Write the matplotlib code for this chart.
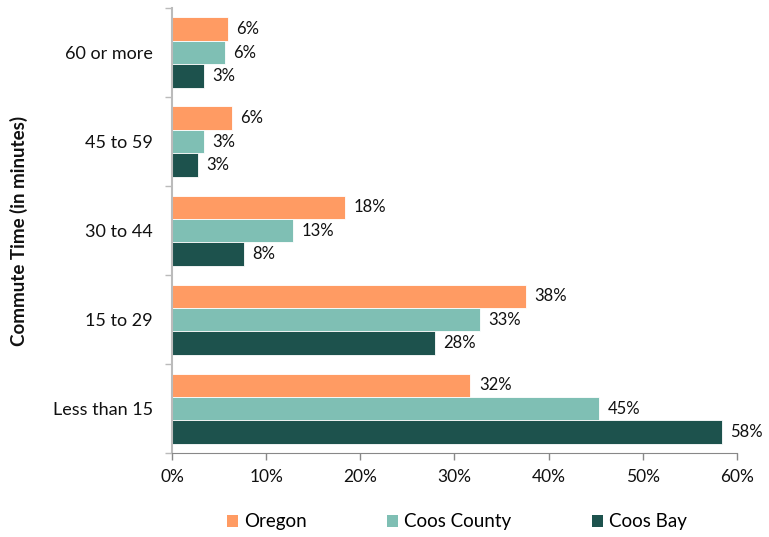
import numpy as np
import matplotlib.pyplot as plt
from matplotlib.patches import Patch

plt.rcParams['font.family'] = ['Lato', 'DejaVu Sans']

# commute time categories, top to bottom as drawn
categories = ['60 or more', '45 to 59', '30 to 44', '15 to 29', 'Less than 15']
series_names = ['Oregon', 'Coos County', 'Coos Bay']
oregon = [5.9, 6.3, 18.4, 37.6, 31.7]
coos_county = [5.6, 3.4, 12.8, 32.7, 45.4]
coos_bay = [3.4, 2.7, 7.6, 27.9, 58.4]
x_ticks = [0, 10, 20, 30, 40, 50, 60]

colors = ['#FF9B63', '#7FBFB4', '#1D524D']
values = [oregon, coos_county, coos_bay]

fig = plt.figure(figsize=(7.69, 5.37), dpi=100)
ax = fig.add_axes([0.224, 0.156, 0.734, 0.829])

n = len(categories)
centers = np.arange(n)
bh = 0.263
for i, (vals, col) in enumerate(zip(values, colors)):
    y = centers + (i - 1) * bh
    ax.barh(y, vals, height=bh, color=col, edgecolor='white', linewidth=0.6)
    for yy, v in zip(y, vals):
        ax.text(v + 0.9, yy, f'{v:.0f}%', va='center', ha='left',
                fontsize=12, color='#111111')

ax.set_ylim(n - 0.5, -0.5)
ax.set_xlim(0, 60)

# category boundaries carry the tick marks, labels sit at the centres
ax.set_yticks(np.arange(n + 1) - 0.5)
ax.set_yticklabels([])
ax.set_yticks(centers, minor=True)
ax.set_yticklabels(categories, minor=True, fontsize=13, color='#111111')
ax.tick_params(axis='y', which='minor', length=0, pad=14)
ax.tick_params(axis='y', which='major', length=5, color='#BBBBBB', width=1)

ax.set_xticks(x_ticks)
ax.set_xticklabels([f'{t}%' for t in x_ticks], fontsize=12.5, color='#111111')
ax.tick_params(axis='x', length=5, color='#888888', width=1, pad=6)

for s in ['top', 'right']:
    ax.spines[s].set_visible(False)
ax.spines['left'].set_color('#BBBBBB')
ax.spines['left'].set_linewidth(1.5)
ax.spines['bottom'].set_color('#888888')

fig.text(0.024, 0.57, 'Commute Time (in minutes)', rotation=90, va='center',
         ha='center', fontsize=13.5, fontweight='bold', color='#111111')

handles = [Patch(facecolor=c, edgecolor='none') for c in colors]
fig.legend(handles, series_names, loc='center', bbox_to_anchor=(0.594, 0.028),
           ncol=3, frameon=False, fontsize=13.5, handlelength=0.6,
           handleheight=0.6, handletextpad=0.3, columnspacing=4.3)

fig.savefig('out.png', dpi=100)
